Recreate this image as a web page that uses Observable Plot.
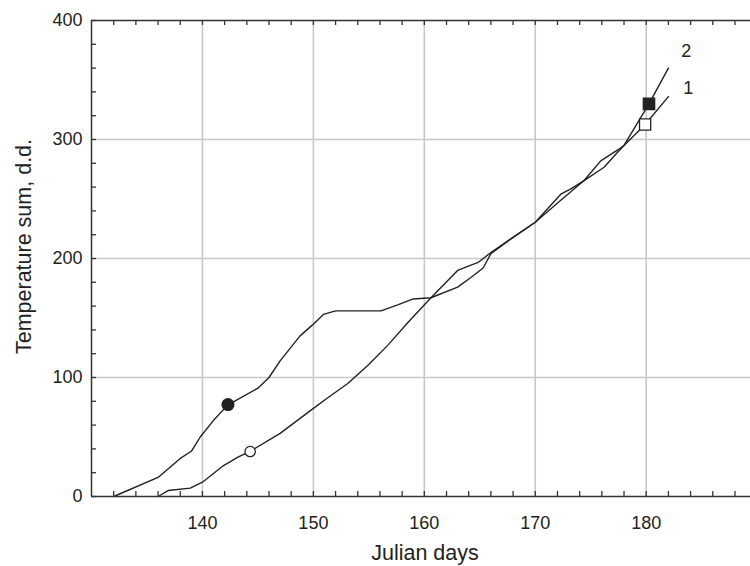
<!DOCTYPE html>
<html><head><meta charset="utf-8">
<script src="https://cdn.jsdelivr.net/npm/d3@7"></script>
<script src="https://cdn.jsdelivr.net/npm/@observablehq/plot@0.6"></script>
<style>body{margin:0;background:#fff} #chart{width:750px;height:566px}</style>
</head><body><div id="chart"></div>
<script>
// Series 1 (open markers)
const days1 = [136, 136.9, 138.9, 140, 141.9, 143.2, 144.3, 147, 149.7, 151.3, 153.1, 154.9, 156.7, 158.5, 160.6, 163, 164.9, 166, 167.8, 170, 172.3, 174.4, 175.9, 177.4, 178, 179.9, 182];
const temp1 = [0, 5, 7, 12, 26, 33, 38, 53, 72, 83, 95, 110, 127, 146, 167, 190, 197, 205, 216.5, 230.5, 249, 265.5, 282, 291, 295, 312.6, 336];
// Series 2 (filled markers)
const days2 = [132, 136, 138, 139, 139.8, 141, 142.3, 145, 146, 147, 148.8, 149.9, 150.9, 152, 156.1, 157.6, 159, 160.6, 163, 164.2, 165.3, 166, 167.8, 170, 172.3, 173.2, 174.4, 176.2, 177.4, 178, 180.25, 182];
const temp2 = [0, 16, 32, 38, 50, 64, 77, 91, 100, 114, 135, 144, 153, 156, 156, 161, 166, 167, 176, 184, 192, 204, 216.5, 230.5, 254, 258.5, 265.5, 276.7, 289, 295, 330, 360];
// Markers
const circleDay1 = 144.3, circleTemp1 = 37.8;   // open circle
const squareDay1 = 179.9, squareTemp1 = 312.6;  // open square
const circleDay2 = 142.3, circleTemp2 = 77.3;   // filled circle
const squareDay2 = 180.25, squareTemp2 = 330;   // filled square
// Series end labels
const seriesLabels = ["1", "2"];
const labelDays = [183.8, 183.6];
const labelTemps = [343, 374];
// Axes
const xTicks = [140, 150, 160, 170, 180];
const yTicks = [0, 100, 200, 300, 400];
const xMinor = d3.range(132, 190, 2);
const yMinor = d3.range(0, 401, 20);
const xGrid = [140, 150, 160, 170, 180];
const yGrid = [100, 200, 300];
const xDomain = [130, 189.4];
const yDomain = [0, 400];
const xTitle = "Julian days";
const yTitle = "Temperature sum, d.d.";

const W = 750, H = 566, mL = 91, mR = 0, mT = 20, mB = 70;
const tickLenY = 5 * (yDomain[1] - yDomain[0]) / (H - mT - mB);
const tickLenX = 5 * (xDomain[1] - xDomain[0]) / (W - mL - mR);

const s1 = days1.map((d, i) => ({day: d, temp: temp1[i]}));
const s2 = days2.map((d, i) => ({day: d, temp: temp2[i]}));
const labels = seriesLabels.map((t, i) => ({t, day: labelDays[i], temp: labelTemps[i]}));

const ink = "#222";
const chart = Plot.plot({
  width: W, height: H,
  marginLeft: mL, marginRight: mR, marginTop: mT, marginBottom: mB,
  x: {domain: xDomain, axis: null},
  y: {domain: yDomain, axis: null},
  style: {fontFamily: "'Liberation Sans', Arial, sans-serif", fontSize: "18px", background: "white", color: ink},
  marks: [
    Plot.ruleX(xGrid, {x: d => d, y1: yDomain[0], y2: yDomain[1], stroke: "#c8c8c8", strokeWidth: 1.6}),
    Plot.ruleY(yGrid, {y: d => d, x1: xDomain[0], x2: xDomain[1], stroke: "#c8c8c8", strokeWidth: 1.6}),
    Plot.line(s1, {x: "day", y: "temp", stroke: ink, strokeWidth: 1.4}),
    Plot.line(s2, {x: "day", y: "temp", stroke: ink, strokeWidth: 1.4}),
    Plot.dot([{day: circleDay2, temp: circleTemp2}], {x: "day", y: "temp", r: 5.8, fill: ink, stroke: ink}),
    Plot.dot([{day: circleDay1, temp: circleTemp1}], {x: "day", y: "temp", r: 5.2, fill: "white", stroke: ink, strokeWidth: 1.3}),
    Plot.dot([{day: squareDay2, temp: squareTemp2}], {x: "day", y: "temp", symbol: "square", r: 6.3, fill: ink, stroke: ink}),
    Plot.dot([{day: squareDay1, temp: squareTemp1}], {x: "day", y: "temp", symbol: "square", r: 6.3, fill: "white", stroke: ink, strokeWidth: 1.3}),
    // axis lines
    Plot.ruleY([yDomain[0], yDomain[1]], {y: d => d, x1: xDomain[0], x2: xDomain[1], stroke: "#333", strokeWidth: 1.5}),
    Plot.ruleX([xDomain[0]], {x: d => d, y1: yDomain[0], y2: yDomain[1], stroke: "#333", strokeWidth: 1.5}),
    // inward ticks
    Plot.ruleX(xMinor, {x: d => d, y1: yDomain[0], y2: yDomain[0] + tickLenY, stroke: "#333", strokeWidth: 1.3}),
    Plot.ruleX(xMinor, {x: d => d, y1: yDomain[1], y2: yDomain[1] - tickLenY, stroke: "#333", strokeWidth: 1.3}),
    Plot.ruleY(yMinor, {y: d => d, x1: xDomain[0], x2: xDomain[0] + tickLenX, stroke: "#333", strokeWidth: 1.3}),
    // tick labels
    Plot.text(xTicks, {x: d => d, y: yDomain[0], dy: 27, text: d => String(d), fill: ink, fontSize: 18}),
    Plot.text(yTicks, {x: xDomain[0], y: d => d, dx: -9, textAnchor: "end", text: d => String(d), fill: ink, fontSize: 18}),
    // series labels
    Plot.text(labels, {x: "day", y: "temp", text: "t", fill: ink, fontSize: 18}),
    // titles
    Plot.text([xTitle], {frameAnchor: "bottom", textAnchor: "middle", dx: 4, dy: 63, fill: ink, fontSize: 21.5}),
    Plot.text([yTitle], {frameAnchor: "left", textAnchor: "middle", rotate: -90, dx: -67, dy: -12, fill: ink, fontSize: 21.5})
  ]
});
document.getElementById("chart").appendChild(chart);
</script>
</body></html>
